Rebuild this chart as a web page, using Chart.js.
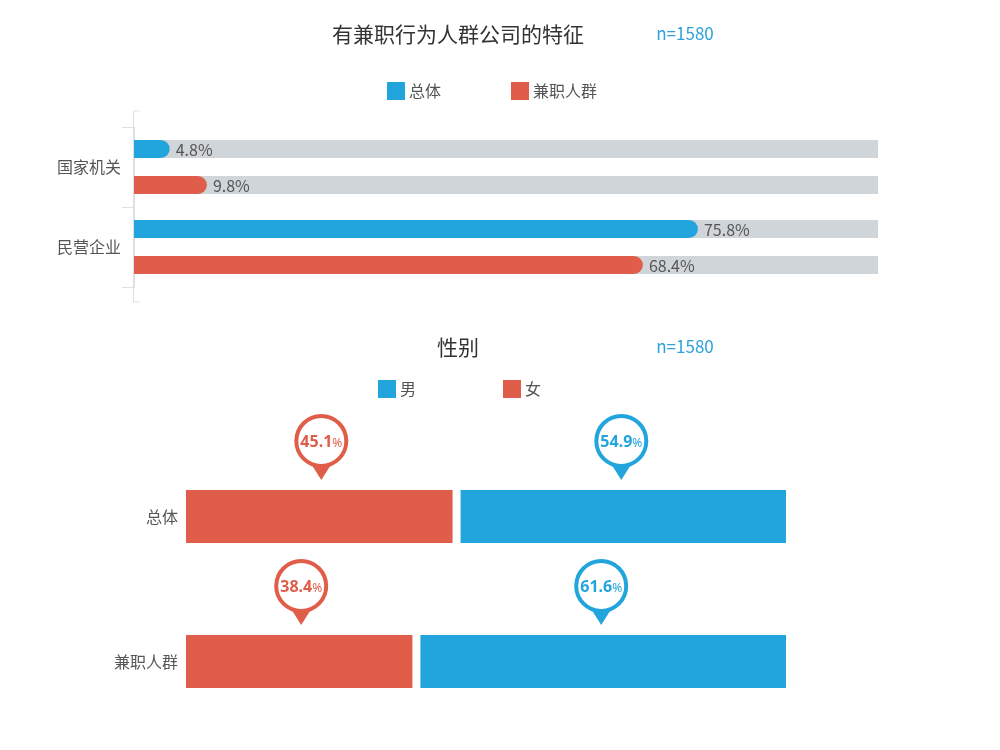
<!DOCTYPE html>
<html lang="zh-CN">
<head>
<meta charset="utf-8">
<title>有兼职行为人群公司的特征</title>
<script src="https://cdn.jsdelivr.net/npm/chart.js@4.4.1/dist/chart.umd.min.js"></script>
<style>
  body { margin: 0; background: #fff; }
  #wrap { position: relative; width: 1000px; height: 750px; }
  canvas { position: absolute; left: 0; }
</style>
</head>
<body>
<div id="wrap">
  <canvas id="company-chart" width="1000" height="310" style="top:0"></canvas>
  <canvas id="gender-chart" width="1000" height="440" style="top:310px"></canvas>
</div>
<script>
// 数据
const companyTitle = '有兼职行为人群公司的特征';
const genderTitle = '性别';
const sampleText = 'n=1580';
const companyTypes = ['国家机关', '民营企业'];
const groupNames = ['总体', '兼职人群'];
const overallShare = [4.8, 75.8];
const partTimeShare = [9.8, 68.4];
const trackMax = [100, 100];
const genderNames = ['男', '女'];
const maleShare = [54.9, 61.6];
const femaleShare = [45.1, 38.4];

const BLUE = '#22a5dc';
const RED = '#e05e49';
const TRACK = '#cfd5d8';
const AXIS = '#dde1e3';
const TEXT = '#555';
const FONT = '"Noto Sans CJK SC", "Noto Sans", sans-serif';

// 标题、样本量和图例（画在画布上）
function makeHeader(cfg) {
    return {
        id: 'header',
        afterDraw(chart) {
            const ctx = chart.ctx;
            ctx.save();
            ctx.textBaseline = 'middle';
            ctx.textAlign = 'center';
            ctx.fillStyle = '#333';
            ctx.font = '21px ' + FONT;
            ctx.fillText(cfg.title, cfg.titleX, cfg.titleY);
            ctx.fillStyle = '#2ea3da';
            ctx.font = '17px ' + FONT;
            ctx.fillText(cfg.note, cfg.noteX, cfg.titleY);
            ctx.textAlign = 'left';
            ctx.font = '16px ' + FONT;
            cfg.items.forEach(item => {
                ctx.fillStyle = item.color;
                ctx.fillRect(item.x, cfg.legendY, 18, 18);
                ctx.fillStyle = TEXT;
                ctx.fillText(item.text, item.x + 22, cfg.legendY + 9);
            });
            ctx.restore();
        }
    };
}

// 条形末端的百分比
const valueLabels = {
    id: 'valueLabels',
    afterDatasetsDraw(chart) {
        const ctx = chart.ctx;
        ctx.save();
        ctx.font = '16px ' + FONT;
        ctx.fillStyle = TEXT;
        ctx.textBaseline = 'middle';
        chart.data.datasets.forEach((ds, i) => {
            if (!ds.showValue) return;
            chart.getDatasetMeta(i).data.forEach((bar, j) => {
                ctx.fillText(ds.data[j].toFixed(1) + '%', bar.x + 6, bar.y + 1);
            });
        });
        ctx.restore();
    }
};

// y 轴线上下各延长一点
const axisExtend = {
    id: 'axisExtend',
    afterDraw(chart) {
        const { ctx, chartArea } = chart;
        const x = Math.round(chartArea.left) - 0.5;
        ctx.save();
        ctx.strokeStyle = AXIS;
        ctx.lineWidth = 1;
        ctx.beginPath();
        ctx.moveTo(x + 6, chartArea.top - 16);
        ctx.lineTo(x, chartArea.top - 16);
        ctx.lineTo(x, chartArea.bottom + 15);
        ctx.lineTo(x + 6, chartArea.bottom + 15);
        ctx.stroke();
        ctx.restore();
    }
};

// 性别图上方的气泡标签
const pinLabels = {
    id: 'pinLabels',
    afterDatasetsDraw(chart) {
        const ctx = chart.ctx;
        chart.data.datasets.forEach((ds, i) => {
            const color = ds.backgroundColor;
            chart.getDatasetMeta(i).data.forEach((bar, j) => {
                const cx = (bar.x + bar.base) / 2;
                const tip = bar.y - bar.height / 2 - 10;
                const cy = tip - 39;
                ctx.save();
                ctx.fillStyle = color;
                ctx.beginPath();
                ctx.moveTo(cx - 12, cy + 20);
                ctx.lineTo(cx + 12, cy + 20);
                ctx.lineTo(cx, tip);
                ctx.closePath();
                ctx.fill();
                ctx.beginPath();
                ctx.arc(cx, cy, 25, 0, Math.PI * 2);
                ctx.fillStyle = '#fff';
                ctx.fill();
                ctx.lineWidth = 4;
                ctx.strokeStyle = color;
                ctx.stroke();

                const num = ds.data[j].toFixed(1);
                ctx.font = 'bold 16px "Noto Sans", sans-serif';
                const w1 = ctx.measureText(num).width;
                ctx.font = '12px "Noto Sans", sans-serif';
                const w2 = ctx.measureText('%').width;
                const x0 = cx - (w1 + w2) / 2;
                ctx.fillStyle = color;
                ctx.textAlign = 'left';
                ctx.textBaseline = 'alphabetic';
                ctx.font = 'bold 16px "Noto Sans", sans-serif';
                ctx.fillText(num, x0, cy + 6);
                ctx.font = '12px "Noto Sans", sans-serif';
                ctx.fillText('%', x0 + w1, cy + 6);
                ctx.restore();
            });
        });
    }
};

// 公司类型图
new Chart(document.getElementById('company-chart'), {
    type: 'bar',
    data: {
        labels: companyTypes,
        datasets: [
            { label: groupNames[0], data: overallShare, backgroundColor: BLUE, stack: 'overall', order: 1,
              borderRadius: 9, borderSkipped: 'start', categoryPercentage: 0.9, barPercentage: 0.5, showValue: true },
            { label: groupNames[1], data: partTimeShare, backgroundColor: RED, stack: 'parttime', order: 1,
              borderRadius: 9, borderSkipped: 'start', categoryPercentage: 0.9, barPercentage: 0.5, showValue: true },
            { label: 'track', data: trackMax, backgroundColor: TRACK, stack: 'overall', order: 2,
              categoryPercentage: 0.9, barPercentage: 0.5 },
            { label: 'track', data: trackMax, backgroundColor: TRACK, stack: 'parttime', order: 2,
              categoryPercentage: 0.9, barPercentage: 0.5 }
        ]
    },
    options: {
        indexAxis: 'y',
        responsive: false,
        animation: false,
        layout: { padding: { top: 127, right: 122, bottom: 23, left: 0 } },
        plugins: { legend: { display: false }, tooltip: { enabled: false } },
        scales: {
            x: { display: false, min: 0, max: 100, stacked: false },
            y: {
                afterFit(scale) { scale.width = 134; },
                grid: { offset: true, drawOnChartArea: false, tickLength: 12, color: AXIS },
                border: { color: AXIS },
                ticks: { padding: 1, color: TEXT, font: { size: 16, family: FONT } }
            }
        }
    },
    plugins: [
        makeHeader({
            title: companyTitle, titleX: 458, titleY: 34, note: sampleText, noteX: 685, legendY: 82,
            items: [
                { text: groupNames[0], color: BLUE, x: 387 },
                { text: groupNames[1], color: RED, x: 511 }
            ]
        }),
        valueLabels,
        axisExtend
    ]
});

// 性别图
new Chart(document.getElementById('gender-chart'), {
    type: 'bar',
    data: {
        labels: groupNames,
        datasets: [
            { label: genderNames[1], data: femaleShare, backgroundColor: RED, borderColor: '#fff',
              borderWidth: { top: 0, right: 4, bottom: 0, left: 0 }, borderSkipped: false,
              categoryPercentage: 1, barPercentage: 0.366 },
            { label: genderNames[0], data: maleShare, backgroundColor: BLUE, borderColor: '#fff',
              borderWidth: { top: 0, right: 0, bottom: 0, left: 4 }, borderSkipped: false,
              categoryPercentage: 1, barPercentage: 0.366 }
        ]
    },
    options: {
        indexAxis: 'y',
        responsive: false,
        animation: false,
        layout: { padding: { top: 134, right: 214, bottom: 16, left: 0 } },
        plugins: { legend: { display: false }, tooltip: { enabled: false } },
        scales: {
            x: { display: false, stacked: true, min: 0, max: 100 },
            y: {
                stacked: true,
                afterFit(scale) { scale.width = 186; },
                grid: { display: false },
                border: { display: false },
                ticks: { padding: 0, color: TEXT, font: { size: 16, family: FONT } }
            }
        }
    },
    plugins: [
        makeHeader({
            title: genderTitle, titleX: 458, titleY: 37, note: sampleText, noteX: 685, legendY: 70,
            items: [
                { text: genderNames[0], color: BLUE, x: 378 },
                { text: genderNames[1], color: RED, x: 503 }
            ]
        }),
        pinLabels
    ]
});
</script>
</body>
</html>
